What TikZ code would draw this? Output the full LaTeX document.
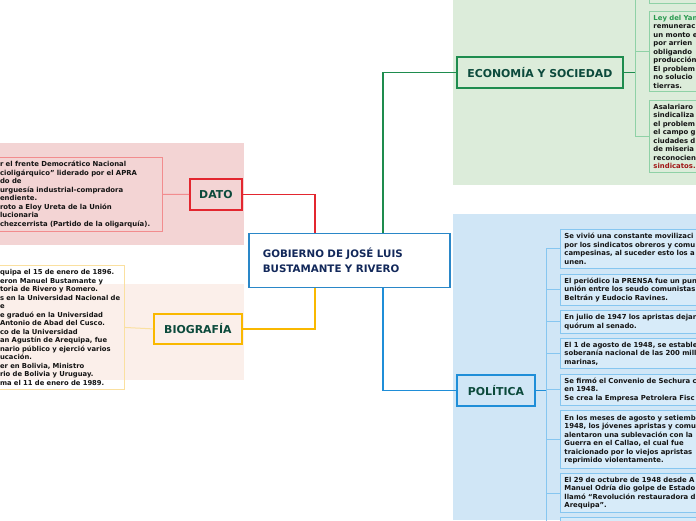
\documentclass[tikz,border=0pt]{standalone}
\usepackage{fontspec}
\setmainfont{DejaVu Sans}
\usetikzlibrary{calc}
\definecolor{datobg}{HTML}{F3D4D4}
\definecolor{datoborder}{HTML}{E3262F}
\definecolor{datosub}{HTML}{F28C8E}
\definecolor{biobg}{HTML}{FBEFEA}
\definecolor{bioborder}{HTML}{F9B800}
\definecolor{biosub}{HTML}{FAE0A0}
\definecolor{ecobg}{HTML}{DCECDA}
\definecolor{ecoborder}{HTML}{1E8C4E}
\definecolor{ecosub}{HTML}{8FD1A6}
\definecolor{polbg}{HTML}{D0E6F6}
\definecolor{polborder}{HTML}{1F8ED8}
\definecolor{polsub}{HTML}{86C6F0}
\definecolor{polfill}{HTML}{D7EBF9}
\definecolor{cenborder}{HTML}{2A87C8}
\definecolor{centext}{HTML}{12285A}
\definecolor{topictext}{HTML}{0C4A3C}
\definecolor{subtext}{HTML}{141414}
\definecolor{leygreen}{HTML}{2A9A50}
\definecolor{darkred}{HTML}{A01414}
\begin{document}
\begin{tikzpicture}[x=1pt,y=-1pt,
  topic/.style={draw, line width=1.8pt, font=\fontsize{10.9}{12}\selectfont\bfseries, text=topictext, inner sep=0pt, anchor=north west},
  subbox/.style={draw, line width=0.9pt, font=\fontsize{6.9}{8.5}\selectfont\bfseries, text=subtext, align=left, inner xsep=4pt, inner ysep=3.5pt, anchor=north west},
  mainlink/.style={line width=1.2pt},
  sublink/.style={line width=1pt}
]
\useasboundingbox (0,0) rectangle (696,520);
% backgrounds
\fill[datobg] (0,143) rectangle (244,245);
\fill[biobg] (0,284) rectangle (244,380);
\fill[ecobg] (453,0) rectangle (696,185);
\fill[polbg] (453,214) rectangle (696,520);

% central
\node[draw=cenborder, line width=1.6pt, fill=white, anchor=north west, minimum width=201, minimum height=54, text width=173, inner xsep=14pt, align=left, font=\fontsize{10.3}{14.5}\selectfont\bfseries, text=centext] (cen) at (248,232.5) {GOBIERNO DE JOSÉ LUIS\\BUSTAMANTE Y RIVERO};

% topics
\node[topic, draw=datoborder, minimum width=52, minimum height=31] (dato) at (189,178) {DATO};
\node[topic, draw=bioborder, minimum width=88, minimum height=30] (bio) at (153,313) {BIOGRAFÍA};
\node[topic, draw=ecoborder, minimum width=166, minimum height=31] (eco) at (456,56) {ECONOMÍA Y SOCIEDAD};
\node[topic, draw=polborder, minimum width=78, minimum height=31] (pol) at (456,374) {POLÍTICA};

% left text boxes
\node[subbox, draw=datosub, anchor=north east, text width=158.5, minimum height=74] (dtxt) at (163,157) {r el frente Democrático Nacional\\cioligárquico” liderado por el APRA\\do de\\urguesía industrial-compradora\\endiente.\\roto a Eloy Ureta de la Unión\\lucionaria\\chezcerrista (Partido de la oligarquía).};
\node[subbox, draw=biosub, anchor=north east, text width=120.5, minimum height=124, font=\fontsize{6.8}{8.5}\selectfont\bfseries] (btxt) at (125,265) {quipa el 15 de enero de 1896.\\eron Manuel Bustamante y\\toria de Rivero y Romero.\\\mbox{s en la Universidad Nacional de}\\e\\e graduó en la Universidad\\Antonio de Abad del Cusco.\\co de la Universidad\\an Agustín de Arequipa, fue\\nario público y ejerció varios\\ucación.\\er en Bolivia, Ministro\\rio de Bolivia y Uruguay.\\ma el 11 de enero de 1989.};

% economy boxes
\node[subbox, draw=ecosub, text width=200, minimum height=33] (e1) at (649,-30) {};
\node[subbox, draw=ecosub, text width=200, minimum height=80] (e2) at (649,11) {\textcolor{leygreen}{Ley del Yan}\\remunerac\\un monto e\\ por arrien\\obligando\\producción\\El problem\\no solucio\\tierras.};
\node[subbox, draw=ecosub, text width=200, minimum height=70] (e3) at (649,100) {Asalariaro\\sindicaliza\\el problem\\el campo g\\ciudades d\\de miseria\\reconocien\\\textcolor{darkred}{sindicatos.}};

% politics boxes
\node[subbox, draw=polsub, fill=polfill, text width=200, minimum height=39] (p1) at (560,229) {Se vivió una constante movilizaci\\por los sindicatos obreros y comu\\campesinas, al suceder esto los a\\unen.};
\node[subbox, draw=polsub, fill=polfill, text width=200, minimum height=31] (p2) at (560,274) {El periódico la PRENSA fue un pun\\unión entre los seudo comunistas\\Beltrán y Eudocio Ravines.};
\node[subbox, draw=polsub, fill=polfill, text width=200, minimum height=23] (p3) at (560,310) {En julio de 1947 los apristas dejar\\quórum al senado.};
\node[subbox, draw=polsub, fill=polfill, text width=200, minimum height=28] (p4) at (560,338) {El 1 de agosto de 1948, se estable\\soberanía nacional de las 200 mill\\marinas,};
\node[subbox, draw=polsub, fill=polfill, text width=200, minimum height=30] (p5) at (560,374) {Se firmó el Convenio de Sechura c\\en 1948.\\Se crea la Empresa Petrolera Fisc};
\node[subbox, draw=polsub, fill=polfill, text width=200, minimum height=58] (p6) at (560,410) {En los meses de agosto y setiemb\\1948, los jóvenes apristas y comu\\alentaron una sublevación con la\\Guerra en el Callao, el cual fue\\traicionado por lo viejos apristas\\reprimido violentamente.};
\node[subbox, draw=polsub, fill=polfill, text width=200, minimum height=39] (p7) at (560,473) {El 29 de octubre de 1948 desde A\\Manuel Odría dio golpe de Estado\\llamó “Revolución restauradora d\\Arequipa”.};
\node[subbox, draw=polsub, fill=polfill, text width=200, minimum height=30] (p8) at (560,517) {};

% main connectors
\draw[mainlink, datoborder] (dato.east) -| ([xshift=67pt]cen.north west);
\draw[mainlink, bioborder] ([xshift=67pt]cen.south west) |- (bio.east);
\draw[mainlink, ecoborder] ([xshift=135pt]cen.north west) |- (eco.west);
\draw[mainlink, polborder] ([xshift=135pt]cen.south west) |- (pol.west);

% sub connectors
\draw[sublink, datosub] (dtxt.east) -- (dato.west);
\draw[sublink, biosub] (btxt.east) -- (bio.west);

\coordinate (etrunk) at ($(eco.east)+(12,0)$);
\draw[sublink, ecoborder] (eco.east) -- (etrunk);
\foreach \b in {e1,e2,e3} \draw[sublink, ecosub] (etrunk) |- (\b.west);

\coordinate (ptrunk) at ($(pol.east)+(11,0)$);
\draw[sublink, polborder] (pol.east) -- (ptrunk);
\foreach \b in {p1,p2,p3,p4,p5,p6,p7,p8} \draw[sublink, polsub] (ptrunk) |- (\b.west);
\end{tikzpicture}
\end{document}
